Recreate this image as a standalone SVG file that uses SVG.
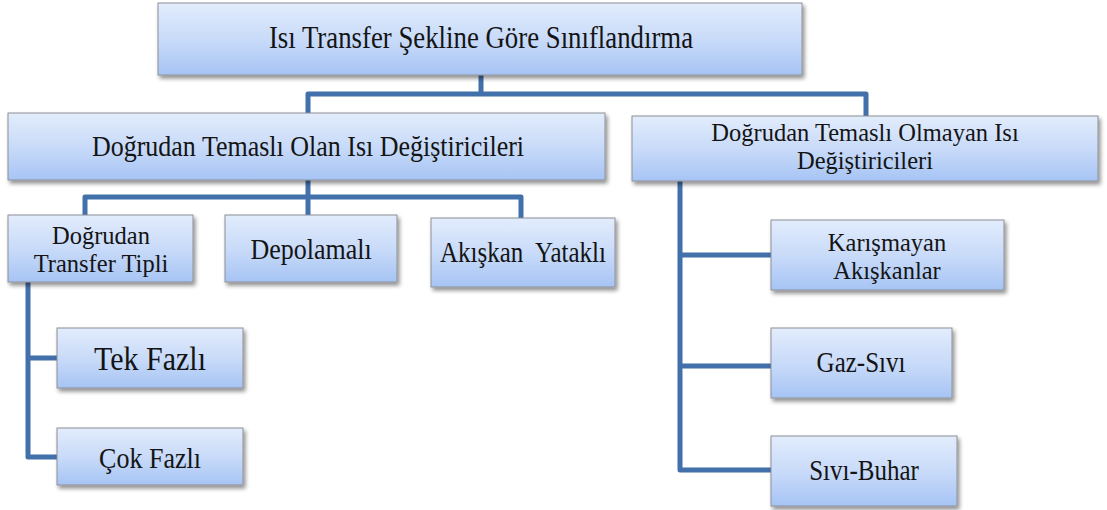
<svg xmlns="http://www.w3.org/2000/svg" width="1107" height="510" viewBox="0 0 1107 510">
<defs>
<linearGradient id="g" x1="0" y1="0" x2="0" y2="1">
<stop offset="0" stop-color="#e2ecfc"/>
<stop offset="0.5" stop-color="#c9dbf9"/>
<stop offset="1" stop-color="#a6c4f4"/>
</linearGradient>
<filter id="sh" x="-10%" y="-10%" width="120%" height="130%">
<feGaussianBlur in="SourceAlpha" stdDeviation="2"/>
<feOffset dx="2" dy="3" result="b"/>
<feComponentTransfer><feFuncA type="linear" slope="0.45"/></feComponentTransfer>
<feMerge><feMergeNode/><feMergeNode in="SourceGraphic"/></feMerge>
</filter>
</defs>
<style>
.box{fill:url(#g);stroke:#8e9096;stroke-width:1;filter:url(#sh)}
.t{font-family:"Liberation Serif","Times New Roman",serif;font-size:25px;fill:#141414;text-anchor:middle}
.t2{font-family:"Liberation Serif","Times New Roman",serif;font-size:24.5px;fill:#141414;text-anchor:middle}
.c{fill:none;stroke:#4170aa;stroke-width:5;stroke-linejoin:round}
</style>
<g id="connectors">
<path class="c" d="M481 75 V94 M308 113 V94 H866 V116"/>
<path class="c" d="M308 180 V197 M85 216 V197 H521 V218 M308 197 V215"/>
<path class="c" d="M57 358 H28 V282 M28 358 V457 H57"/>
<path class="c" d="M680 181 V470 H771 M680 255 H771 M680 366 H771"/>
</g>
<g id="n-root"><rect class="box" x="158" y="3" width="644" height="72"/><text class="t" transform="translate(481 48) scale(1 1.15)" style="font-size:26.8px">Isı Transfer Şekline Göre Sınıflandırma</text></g>
<g id="n-direct"><rect class="box" x="8" y="113" width="597" height="67"/><text class="t" transform="translate(308 156) scale(1 1.15)" style="font-size:26px">Doğrudan Temaslı Olan Isı Değiştiricileri</text></g>
<g id="n-indirect"><rect class="box" x="632" y="116" width="466" height="65"/><text class="t2" x="865" y="141">Doğrudan Temaslı Olmayan Isı</text><text class="t2" x="865" y="169">Değiştiricileri</text></g>
<g id="n-transfer"><rect class="box" x="8" y="215" width="185" height="67"/><text class="t2" x="101" y="244">Doğrudan</text><text class="t2" x="101" y="272">Transfer Tipli</text></g>
<g id="n-depo"><rect class="box" x="225" y="215" width="172" height="67"/><text class="t" transform="translate(311 259) scale(1 1.15)" style="font-size:26px">Depolamalı</text></g>
<g id="n-akiskan"><rect class="box" x="431" y="218" width="184" height="69"/><text class="t" transform="translate(523 262) scale(1 1.15)" xml:space="preserve">Akışkan  Yataklı</text></g>
<g id="n-tek"><rect class="box" x="57" y="328" width="186" height="60"/><text class="t" transform="translate(150 370) scale(1 1.15)" style="font-size:30px">Tek Fazlı</text></g>
<g id="n-cok"><rect class="box" x="57" y="428" width="186" height="57"/><text class="t" transform="translate(150 468) scale(1 1.15)" style="font-size:26px">Çok Fazlı</text></g>
<g id="n-karis"><rect class="box" x="771" y="220" width="233" height="70"/><text class="t2" x="887" y="251">Karışmayan</text><text class="t2" x="887" y="279">Akışkanlar</text></g>
<g id="n-gaz"><rect class="box" x="771" y="328" width="181" height="70"/><text class="t" transform="translate(861 372) scale(1 1.15)">Gaz-Sıvı</text></g>
<g id="n-buhar"><rect class="box" x="771" y="436" width="186" height="70"/><text class="t" transform="translate(864 480) scale(1 1.15)">Sıvı-Buhar</text></g>
</svg>
